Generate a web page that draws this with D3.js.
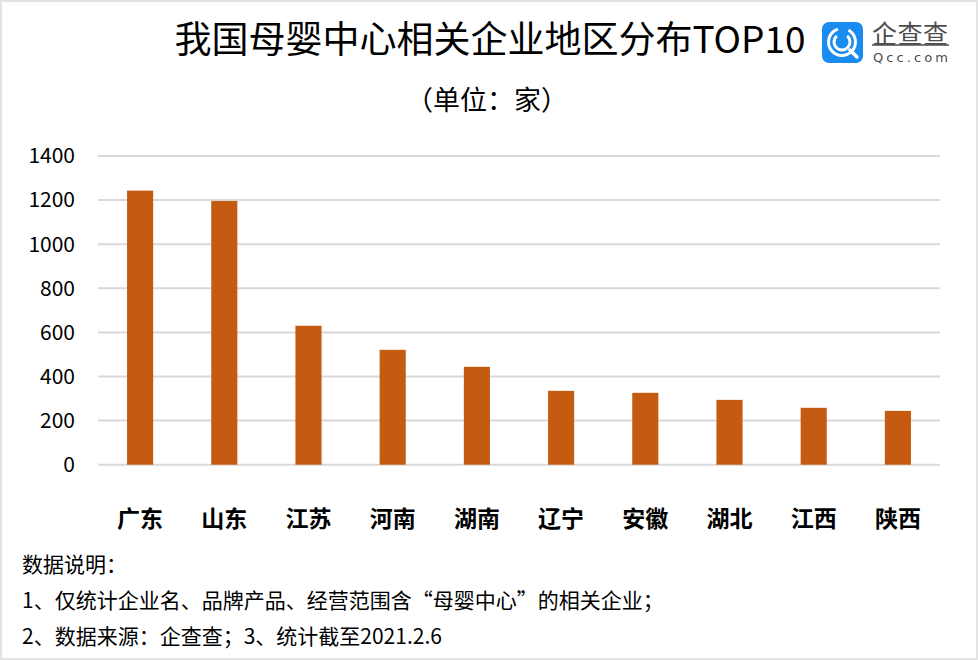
<!DOCTYPE html>
<html><head><meta charset="utf-8">
<script src="https://cdn.jsdelivr.net/npm/d3@7"></script>
<style>
html,body{margin:0;padding:0;background:#fff;}
svg{display:block;font-family:"Noto Sans CJK SC","Noto Sans",sans-serif;}
</style></head>
<body><svg id="chart" width="978" height="660"></svg>
<script>
const categories = ["广东","山东","江苏","河南","湖南","辽宁","安徽","湖北","江西","陕西"];
const values = [1243,1196,630,521,444,335,326,294,258,244];
const yTicks = [0,200,400,600,800,1000,1200,1400];
const titleText = "我国母婴中心相关企业地区分布TOP10";
const subtitleText = "（单位：家）";
const notes = ["数据说明：","1、仅统计企业名、品牌产品、经营范围含“母婴中心”的相关企业；","2、数据来源：企查查；3、统计截至2021.2.6"];

const svg = d3.select("#chart");
svg.append("rect").attr("x",1).attr("y",1).attr("width",976).attr("height",658)
  .attr("fill","#fff").attr("stroke","#e3e3e3").attr("stroke-width",2);

const x = d3.scaleBand().domain(categories).range([98,940]).paddingInner(0.69).paddingOuter(0.345);
const y = d3.scaleLinear().domain([0,1400]).range([464.7,156]);

svg.append("g").selectAll("line").data(yTicks).join("line")
  .attr("x1",98).attr("x2",940).attr("y1",d=>y(d)).attr("y2",d=>y(d))
  .attr("stroke","#d9d9d9").attr("stroke-width",2);

svg.append("g").selectAll("text").data(yTicks).join("text")
  .attr("x",75).attr("y",d=>y(d)).attr("dy","0.35em").attr("text-anchor","end")
  .attr("font-size",21).attr("fill","#000").text(d=>d);

svg.append("g").selectAll("rect").data(values).join("rect")
  .attr("x",(d,i)=>x(categories[i])).attr("width",x.bandwidth())
  .attr("y",d=>y(d)).attr("height",d=>y(0)-y(d))
  .attr("fill","#c55a11");

svg.append("g").selectAll("text").data(categories).join("text")
  .attr("x",d=>x(d)+x.bandwidth()/2).attr("y",527).attr("text-anchor","middle")
  .attr("font-size",23).attr("font-weight","bold").attr("fill","#000").text(d=>d);

svg.append("text").attr("x",490).attr("y",53).attr("text-anchor","middle")
  .attr("font-size",37).attr("fill","#000").text(titleText);
svg.append("text").attr("x",487).attr("y",110).attr("text-anchor","middle")
  .attr("font-size",27).attr("fill","#000").text(subtitleText);

svg.append("g").selectAll("text").data(notes).join("text")
  .attr("x",22).attr("y",(d,i)=>572+i*36).attr("font-size",21).attr("fill","#000").text(d=>d);

const lg = svg.append("g");
lg.append("rect").attr("x",822).attr("y",22).attr("width",41).attr("height",41).attr("rx",7).attr("fill","#1a8cf0");
const cx=842, cy=42;
const arc = d3.arc();
lg.append("path").attr("transform",`translate(${cx},${cy})`)
  .attr("d",arc({innerRadius:12,outerRadius:15,startAngle:0.5,endAngle:2*Math.PI-0.3})).attr("fill","#fff");
lg.append("path").attr("transform",`translate(${cx},${cy})`)
  .attr("d",arc({innerRadius:6.5,outerRadius:9.5,startAngle:0.7,endAngle:2*Math.PI-0.7})).attr("fill","#fff");
lg.append("line").attr("x1",850).attr("y1",50).attr("x2",857).attr("y2",57).attr("stroke","#fff").attr("stroke-width",3.5).attr("stroke-linecap","round");
lg.append("text").attr("x",872).attr("y",43).attr("font-size",25).attr("fill","#4d4d4d").attr("textLength",76).text("企查查");
lg.append("line").attr("x1",872).attr("x2",949).attr("y1",45).attr("y2",45).attr("stroke","#4d4d4d").attr("stroke-width",1.5);
lg.append("text").attr("x",873).attr("y",62).attr("font-size",13).attr("fill","#4d4d4d").attr("textLength",75).attr("font-family","DejaVu Sans").text("Qcc.com");
</script></body></html>
